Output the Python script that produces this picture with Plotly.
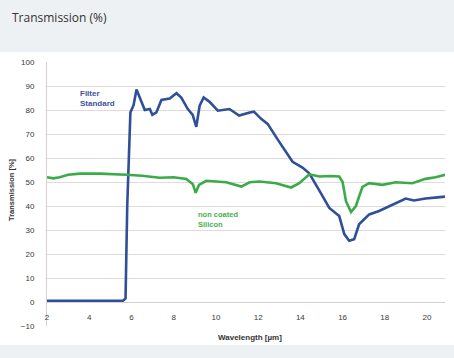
import plotly.graph_objects as go

# Data
blue_x = [2.0, 3.0, 4.0, 5.0, 5.6, 5.72, 5.8, 5.95, 6.1, 6.24, 6.4, 6.63, 6.87, 6.99, 7.18, 7.42, 7.81,
          8.13, 8.36, 8.67, 8.9, 9.07, 9.23, 9.42, 9.7, 10.09, 10.64, 11.1, 11.6, 11.8, 12.14, 12.45,
          13.0, 13.63, 14.1, 14.42, 14.97, 15.37, 15.84, 16.08, 16.31, 16.55, 16.78, 17.26, 17.73,
          18.36, 18.99, 19.38, 19.93, 20.5, 20.95]
blue_y = [0.5, 0.5, 0.5, 0.5, 0.5, 1.5, 40, 79, 82, 88.5, 85, 80, 80.4, 78, 79, 84.2, 84.8,
          87, 85.2, 80.4, 78, 73, 81.8, 85.2, 83.4, 79.7, 80.4, 77.7, 79, 79.3, 76.3, 74.2,
          66.7, 58.4, 56, 53.6, 45.4, 39.2, 35.8, 28.3, 25.5, 26.2, 32.4, 36.5, 37.9,
          40.6, 43.1, 42.3, 43.1, 43.6, 44]

green_x = [2.0, 2.3, 2.6, 3.0, 3.56, 4.5, 5.76, 6.5, 7.34, 8.0, 8.6, 8.91, 9.04, 9.2, 9.54, 10.0, 10.49,
           11.2, 11.6, 12.06, 12.85, 13.56, 13.95, 14.42, 14.9, 15.4, 15.84, 16.0, 16.16, 16.4,
           16.63, 16.94, 17.26, 17.89, 18.52, 19.3, 19.93, 20.4, 20.87]
green_y = [52, 51.5, 52, 53, 53.5, 53.5, 53, 52.6, 51.8, 52, 51.3, 49.1, 45.5, 48.8, 50.5, 50.3, 49.9,
           48.1, 49.9, 50.2, 49.5, 47.7, 49.5, 53.2, 52.3, 52.5, 52.3, 50, 42, 37.5,
           40, 48, 49.5, 48.8, 49.9, 49.5, 51.3, 52, 53]

x_ticks = [2, 4, 6, 8, 10, 12, 14, 16, 18, 20]
y_ticks = [-10, 0, 10, 20, 30, 40, 50, 60, 70, 80, 90, 100]

chart_title = "Transmission (%)"
x_title = "Wavelength [µm]"
y_title = "Transmission [%]"
blue_label = "Filter<br>Standard"
green_label = "non coated<br>Silicon"

W, H = 454, 358
ml, mr, mt, mb = 47, 9, 62, 32
pw = W - ml - mr
ph = H - mt - mb

def px_x(px):
    return (px - ml) / pw

def px_y(py):
    return (H - mb - py) / ph

fig = go.Figure()
fig.add_trace(go.Scatter(x=blue_x, y=blue_y, mode="lines",
                         line=dict(color="#2f4f98", width=2.6), showlegend=False))
fig.add_trace(go.Scatter(x=green_x, y=green_y, mode="lines",
                         line=dict(color="#3aab48", width=2.6), showlegend=False))

ymin, ymax = -10, 100
zero_pos = (0 - ymin) / (ymax - ymin)

fig.update_layout(
    width=W, height=H,
    margin=dict(l=ml, r=mr, t=mt, b=mb),
    paper_bgcolor="#eef1f3",
    plot_bgcolor="rgba(0,0,0,0)",
    font=dict(family="Liberation Sans", size=8, color="#444444"),
    xaxis=dict(range=[2, 20.85], tickvals=x_ticks, showgrid=False, zeroline=False,
               anchor="free", position=zero_pos, showline=True, linecolor="#d8d0d0",
               ticks="", ticklabelstandoff=7,
               tickfont=dict(size=8, color="#383838", family="Liberation Sans")),
    yaxis=dict(range=[ymin, ymax], tickvals=y_ticks, showgrid=True, gridcolor="#e2d9d9",
               gridwidth=1, zeroline=False, showline=True, linecolor="#d8d0d0",
               ticks="", ticklabelstandoff=10,
               tickfont=dict(size=8, color="#383838", family="Liberation Sans")),
    shapes=[dict(type="rect", xref="paper", yref="paper", layer="below",
                 x0=px_x(0), x1=px_x(W), y0=px_y(345), y1=px_y(52),
                 fillcolor="white", line=dict(width=0))],
    annotations=[
        dict(text=chart_title, xref="paper", yref="paper", x=px_x(10), y=px_y(17),
             xanchor="left", yanchor="middle", showarrow=False,
             font=dict(family="Open Sans", size=12, color="#333333")),
        dict(text="<b>" + y_title + "</b>", xref="paper", yref="paper", x=px_x(11), y=px_y(190),
             xanchor="center", yanchor="middle", textangle=-90, showarrow=False,
             font=dict(family="Liberation Sans", size=7.5, color="#333333")),
        dict(text="<b>" + x_title + "</b>", xref="paper", yref="paper", x=px_x(250), y=px_y(337),
             xanchor="center", yanchor="middle", showarrow=False,
             font=dict(family="Liberation Sans", size=8, color="#333333")),
        dict(text="<b>" + blue_label + "</b>", xref="x", yref="y", x=3.45, y=89.5,
             xanchor="left", yanchor="top", align="left", showarrow=False,
             font=dict(family="Liberation Sans", size=8, color="#3d4fa0")),
        dict(text="<b>" + green_label + "</b>", xref="x", yref="y", x=9.05, y=39,
             xanchor="left", yanchor="top", align="left", showarrow=False,
             font=dict(family="Liberation Sans", size=7.5, color="#44b04a")),
    ],
)

fig.write_html("out.html", config={"displayModeBar": False},
               post_script="document.body.style.margin='0';document.body.style.overflow='hidden';")
